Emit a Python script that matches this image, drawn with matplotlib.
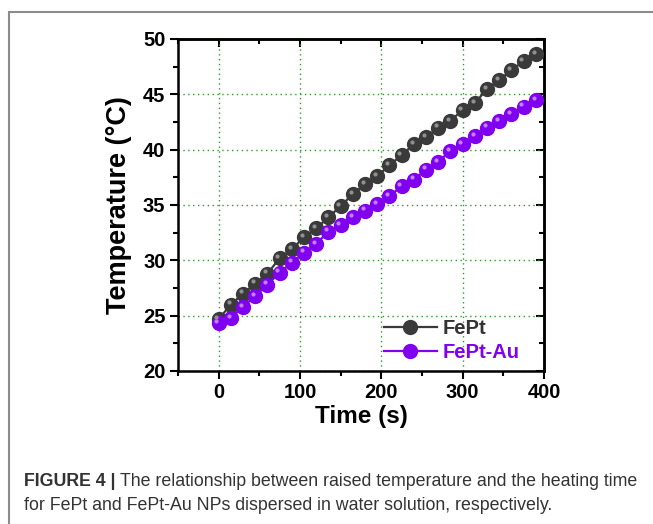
import matplotlib
matplotlib.use("Agg")
import matplotlib.pyplot as plt
from matplotlib.transforms import ScaledTranslation
from matplotlib.ticker import MultipleLocator
from matplotlib.patches import Rectangle

# heating time (s) and temperature (deg C)
time_s = [0, 15, 30, 45, 60, 75, 90, 105, 120, 135, 150, 165, 180, 195,
          210, 225, 240, 255, 270, 285, 300, 315, 330, 345, 360, 375, 390]
temp_fept = [24.7, 26.0, 27.0, 27.9, 28.8, 30.2, 31.0, 32.1, 32.9, 33.9,
             34.9, 36.0, 36.9, 37.6, 38.6, 39.5, 40.5, 41.1, 42.0, 42.6,
             43.6, 44.2, 45.5, 46.3, 47.2, 48.0, 48.6]
temp_fept_au = [24.3, 24.8, 25.8, 26.8, 27.8, 28.9, 29.8, 30.7, 31.5, 32.6,
                33.2, 33.9, 34.5, 35.1, 35.8, 36.7, 37.3, 38.2, 38.9, 39.9,
                40.5, 41.2, 42.0, 42.6, 43.2, 43.9, 44.5]

labels = ["FePt", "FePt-Au"]
colors = ["#3a3a3a", "#8000f0"]
text_colors = ["#333333", "#8000f0"]
highlights = ["#9a9a9a", "#c890ff"]

caption_bold = "FIGURE 4 |"
caption_1 = "The relationship between raised temperature and the heating time"
caption_2 = "for FePt and FePt-Au NPs dispersed in water solution, respectively."

plt.rcParams["font.family"] = ["Liberation Sans", "DejaVu Sans"]

fig = plt.figure(figsize=(6.53, 5.24), dpi=100)

# outer frame of the figure panel (left and top edges visible)
fig.patches.append(Rectangle((9 / 653, -0.1), 1.2, (524 - 12) / 524 + 0.1,
                             transform=fig.transFigure, fill=False,
                             edgecolor="#8c8c8c", linewidth=1.5))

ax = fig.add_axes([178 / 653, 1 - 371 / 524, 366 / 653, 332 / 524])

handles = []
hl_offset = ScaledTranslation(-1.6 / 72, 1.6 / 72, fig.dpi_scale_trans)
for temps, lab, col, hl in zip([temp_fept, temp_fept_au], labels, colors, highlights):
    line, = ax.plot(time_s, temps, "-o", color=col, lw=1.6, ms=10,
                    mec=col, mfc=col, label=lab, zorder=3)
    ax.plot(time_s, temps, "o", ms=3, color=hl, mec="none", alpha=0.9,
            transform=ax.transData + hl_offset, zorder=4)
    handles.append(line)

ax.set_xlim(-50, 400)
ax.set_ylim(20, 50)
ax.xaxis.set_major_locator(MultipleLocator(100))
ax.xaxis.set_minor_locator(MultipleLocator(50))
ax.yaxis.set_major_locator(MultipleLocator(5))
ax.yaxis.set_minor_locator(MultipleLocator(2.5))

ax.grid(True, which="major", color="#2e9a2e", linestyle=(0, (1, 2.5)), linewidth=1.0)
ax.set_axisbelow(True)

for sp in ax.spines.values():
    sp.set_linewidth(1.8)
    sp.set_color("black")

ax.tick_params(which="both", direction="out", width=1.5, bottom=True, left=True,
               top=False, right=False)
ax.tick_params(which="major", length=6, labelsize=14.5, pad=3)
ax.tick_params(which="minor", length=3.5)
for t in ax.get_xticklabels() + ax.get_yticklabels():
    t.set_fontweight("bold")

# inward ticks on top and right
axt = ax.secondary_xaxis("top")
axt.xaxis.set_major_locator(MultipleLocator(100))
axt.xaxis.set_minor_locator(MultipleLocator(50))
axt.tick_params(which="both", direction="in", width=1.5, labeltop=False)
axt.tick_params(which="major", length=6)
axt.tick_params(which="minor", length=3.5)
axt.spines["top"].set_linewidth(1.8)
axr = ax.secondary_yaxis("right")
axr.yaxis.set_major_locator(MultipleLocator(5))
axr.yaxis.set_minor_locator(MultipleLocator(2.5))
axr.tick_params(which="both", direction="in", width=1.5, labelright=False)
axr.tick_params(which="major", length=6)
axr.tick_params(which="minor", length=3.5)
axr.spines["right"].set_linewidth(1.8)

ax.set_xlabel("Time (s)", fontsize=17.5, fontweight="bold", labelpad=2)
ax.set_ylabel("Temperature (°C)", fontsize=19.5, fontweight="bold", labelpad=8)

leg = ax.legend(handles=handles, loc="lower left", bbox_to_anchor=(0.525, -0.015),
                frameon=False, handlelength=2.6, handletextpad=0.3,
                labelspacing=0.25, borderpad=0.2,
                prop={"weight": "bold", "size": 14.5})
for txt, c in zip(leg.get_texts(), text_colors):
    txt.set_color(c)

# caption, sized so the first line spans the same width as the original
cap_y1 = 1 - 481 / 524
cap_y2 = 1 - 505 / 524
cap_fs = 12
t1 = fig.text(24 / 653, cap_y1, caption_bold, fontsize=cap_fs, fontweight="bold",
              color="#333333", va="center")
t2 = fig.text(0, cap_y1, caption_1, fontsize=cap_fs, color="#333333", va="center")
fig.canvas.draw()
r = fig.canvas.get_renderer()
w_total = t1.get_window_extent(r).width + 4 + t2.get_window_extent(r).width
cap_fs = cap_fs * 614 / w_total
t1.set_fontsize(cap_fs)
t2.set_fontsize(cap_fs)
fig.canvas.draw()
bb = t1.get_window_extent(r)
t2.set_x((bb.x1 + 4) / 653)
fig.text(24 / 653, cap_y2, caption_2, fontsize=cap_fs, color="#333333", va="center")

fig.savefig("out.png", dpi=100)
plt.close(fig)
